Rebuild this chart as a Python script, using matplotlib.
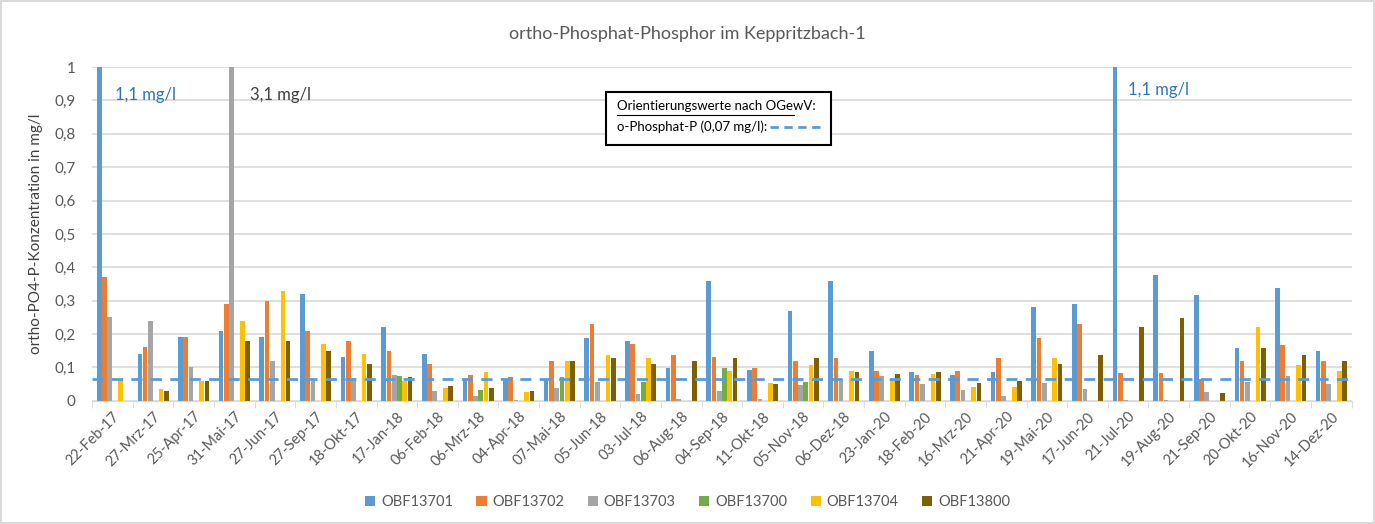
import numpy as np
import matplotlib
matplotlib.use("Agg")
import matplotlib.pyplot as plt
from matplotlib.patches import Rectangle
from matplotlib.lines import Line2D

plt.rcParams['font.family'] = ['Lato', 'DejaVu Sans']

# categories (sampling dates)
dates = ["22-Feb-17", "27-Mrz-17", "25-Apr-17", "31-Mai-17", "27-Jun-17", "27-Sep-17",
         "18-Okt-17", "17-Jan-18", "06-Feb-18", "06-Mrz-18", "04-Apr-18", "07-Mai-18",
         "05-Jun-18", "03-Jul-18", "06-Aug-18", "04-Sep-18", "11-Okt-18", "05-Nov-18",
         "06-Dez-18", "23-Jan-20", "18-Feb-20", "16-Mrz-20", "21-Apr-20", "19-Mai-20",
         "17-Jun-20", "21-Jul-20", "19-Aug-20", "21-Sep-20", "20-Okt-20", "16-Nov-20",
         "14-Dez-20"]

nan = np.nan
obf13701 = [1.1, 0.14, 0.19, 0.21, 0.19, 0.32, 0.13, 0.22, 0.14, 0.062, 0.065, 0.066,
            0.188, 0.18, 0.098, 0.36, 0.093, 0.268, 0.36, 0.148, 0.085, 0.078, 0.085,
            0.28, 0.29, 1.1, 0.378, 0.318, 0.158, 0.338, 0.148]
obf13702 = [0.37, 0.16, 0.19, 0.29, 0.30, 0.21, 0.18, 0.148, 0.11, 0.078, 0.07, 0.12,
            0.23, 0.17, 0.138, 0.13, 0.098, 0.12, 0.127, 0.09, 0.078, 0.09, 0.127,
            0.187, 0.23, 0.082, 0.082, 0.065, 0.12, 0.168, 0.12]
obf13703 = [0.25, 0.24, 0.10, 3.1, 0.12, 0.06, 0.063, 0.078, 0.03, 0.014, 0.003, 0.038,
            0.058, 0.022, 0.006, 0.03, 0.006, 0.048, 0.065, 0.075, 0.052, 0.033, 0.014,
            0.053, 0.035, 0.003, 0.003, 0.028, 0.058, 0.075, 0.05]
obf13700 = [nan, nan, nan, nan, nan, nan, nan, 0.075, nan, 0.032, nan, 0.072,
            nan, 0.056, nan, 0.098, nan, 0.058, nan, nan, nan, nan, nan,
            nan, nan, nan, nan, nan, nan, nan, nan]
obf13704 = [0.065, 0.035, 0.06, 0.24, 0.33, 0.17, 0.14, 0.06, 0.038, 0.085, 0.028, 0.12,
            0.138, 0.127, nan, 0.088, 0.054, 0.108, 0.088, 0.065, 0.08, 0.042, 0.042,
            0.127, nan, nan, nan, nan, 0.22, 0.108, 0.09]
obf13800 = [nan, 0.03, 0.06, 0.18, 0.18, 0.15, 0.11, 0.072, 0.045, 0.038, 0.03, 0.12,
            0.127, 0.109, 0.12, 0.127, 0.052, 0.127, 0.085, 0.08, 0.085, 0.054, 0.06,
            0.11, 0.138, 0.22, 0.248, 0.025, 0.158, 0.138, 0.12]

series = [("OBF13701", obf13701, "#5B9BD5"),
          ("OBF13702", obf13702, "#ED7D31"),
          ("OBF13703", obf13703, "#A5A5A5"),
          ("OBF13700", obf13700, "#70AD47"),
          ("OBF13704", obf13704, "#FFC000"),
          ("OBF13800", obf13800, "#7F6000")]

orientierungswert = 0.065

fig = plt.figure(figsize=(13.75, 5.24), dpi=100, edgecolor="#D9D9D9", linewidth=1.5)
ax = fig.add_axes([0.067, 0.235, 0.916, 0.637])

x = np.arange(len(dates))
w = 0.115
for k, (name, vals, col) in enumerate(series):
    ax.bar(x + (k - 2.5) * 0.13, vals, width=w, color=col, label=name, zorder=2)

ax.axhline(orientierungswert, color="#5B9BD5", lw=2, ls=(0, (4, 3)), zorder=3)

ax.set_ylim(0, 1)
ax.set_xlim(-0.5, len(dates) - 0.5)
yt = np.arange(0, 1.01, 0.1)
ax.set_yticks(yt)
ax.set_yticklabels(["0"] + [("%.1f" % v).replace(".", ",") for v in yt[1:-1]] + ["1"])
ax.yaxis.grid(True, color="#D9D9D9", lw=1.2, zorder=0)
ax.tick_params(axis="y", length=0, labelsize=11, colors="#595959", pad=12)

ax.set_xticks(x)
ax.set_xticklabels(dates, rotation=45, ha="right", rotation_mode="anchor", fontsize=10.5, color="#595959")
ax.set_xticks(np.arange(-0.5, len(dates), 1), minor=True)
ax.tick_params(axis="x", which="major", length=0, pad=6)
ax.tick_params(axis="x", which="minor", length=5, color="#D9D9D9")

for s in ["top", "right", "left"]:
    ax.spines[s].set_visible(False)
ax.spines["bottom"].set_color("#D9D9D9")

ax.set_ylabel("ortho-PO4-P-Konzentration in mg/l", fontsize=11, color="#404040", labelpad=8)
fig.text(0.5, 0.935, "ortho-Phosphat-Phosphor im Keppritzbach-1", ha="center", va="center",
         fontsize=13, color="#595959")

# labels for clipped bars
ax.text(0.07, 0.916, "1,1 mg/l", color="#2E75B6", fontsize=12, va="center")
ax.text(3.39, 0.916, "3,1 mg/l", color="#404040", fontsize=12, va="center")
ax.text(24.99, 0.93, "1,1 mg/l", color="#2E75B6", fontsize=12, va="center")

# box with guide value
ax.add_patch(Rectangle((0.408, 0.766), 0.179, 0.159, transform=ax.transAxes,
                       fill=True, facecolor="white", edgecolor="black", lw=1.5, zorder=5))
ax.text(0.417, 0.883, "Orientierungswerte nach OGewV:", transform=ax.transAxes,
        fontsize=9.5, va="center", zorder=6)
ax.add_line(Line2D([0.417, 0.5575], [0.857, 0.857], transform=ax.transAxes,
                   color="black", lw=0.8, zorder=6))
ax.text(0.417, 0.820, "o-Phosphat-P (0,07 mg/l):", transform=ax.transAxes,
        fontsize=9.5, va="center", zorder=6)
ax.add_line(Line2D([0.538, 0.578], [0.820, 0.820], transform=ax.transAxes,
                   color="#5B9BD5", lw=2, ls=(0, (3, 2)), zorder=6))

leg = fig.legend(loc="center", bbox_to_anchor=(0.5, 0.042), ncol=6, frameon=False,
                 fontsize=10.5, handlelength=0.7, handleheight=0.7, handletextpad=0.4,
                 columnspacing=1.6)
for t in leg.get_texts():
    t.set_color("#595959")

fig.savefig("out.png", dpi=100, edgecolor=fig.get_edgecolor())
